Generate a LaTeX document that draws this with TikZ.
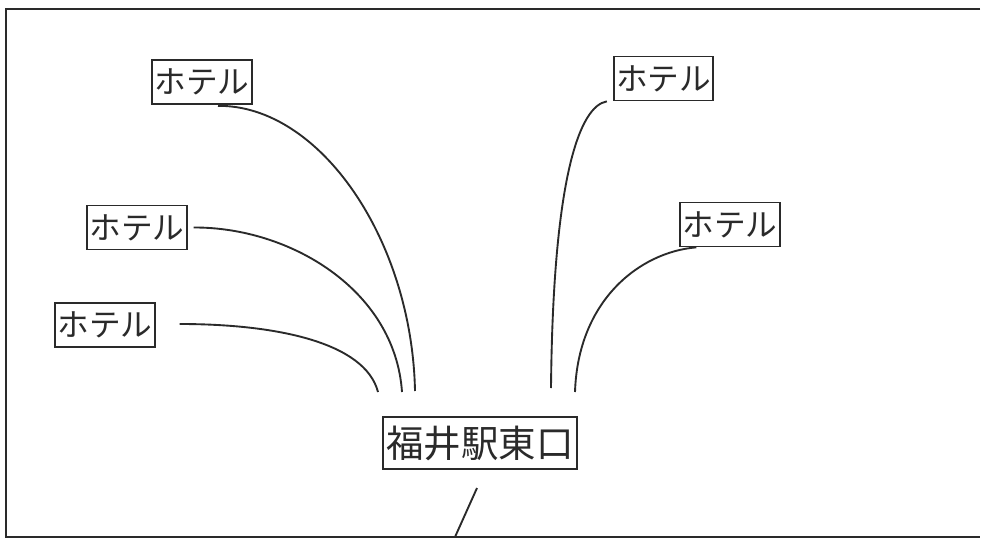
\documentclass[tikz,border=0pt]{standalone}
\usepackage{fontspec}
\setmainfont{Noto Sans CJK JP}
\usetikzlibrary{calc}
\definecolor{ink}{HTML}{2A2A2A}
\tikzset{
  hotel/.style={draw=ink, line width=1.5pt, inner sep=0pt, minimum width=85pt, minimum height=37.5pt, text=ink, font=\fontsize{27}{27}\selectfont},
  station/.style={draw=ink, line width=1.5pt, inner sep=0pt, minimum width=165pt, minimum height=44pt, text=ink, font=\fontsize{32}{32}\selectfont},
  link/.style={draw=ink, line width=1.6pt},
  frame/.style={draw=ink, line width=2.2pt}
}
\begin{document}
\begin{tikzpicture}[x=0.03cm, y=-0.03cm]
\useasboundingbox (0,0) rectangle (987,540);
\fill[white] (0,0) rectangle (987,540);
% frame (its right side runs off the picture)
\draw[frame] (980,9) -- (6,9) -- (6,537) -- (980,537);
% nodes
\node[hotel] (hA) at (202,82) {ホテル};
\node[hotel] (hB) at (137,227.5) {ホテル};
\node[hotel] (hC) at (105,325) {ホテル};
\node[hotel] (hD) at (663.5,78.5) {ホテル};
\node[hotel] (hE) at (730,224.5) {ホテル};
\node[station] (st) at (480,443) {福井駅東口};
% free ends
\coordinate (eA) at (415,391);
\coordinate (eB) at (402,392);
\coordinate (eC) at (378,392);
\coordinate (eD) at (551,388);
\coordinate (eE) at (575,392);
\coordinate (sTop) at (477,488);
\coordinate (sBot) at (455,537);
% connectors
\draw[link] ($(hA.south)+(16,1)$) .. controls (320,105) and (412,240) .. (eA);
\draw[link] ($(hB.east)+(6,0)$) .. controls (290,227) and (395,290) .. (eB);
\draw[link] ($(hC.east)+(24,-1)$) .. controls (275,324) and (365,342) .. (eC);
\draw[link] ($(hD.south west)+(-6,0)$) .. controls (580,106) and (553,175) .. (eD);
\draw[link] ($(hE.south west)+(17,0)$) .. controls (640,252) and (578,300) .. (eE);
\draw[link] (sTop) -- (sBot);
\end{tikzpicture}
\end{document}
